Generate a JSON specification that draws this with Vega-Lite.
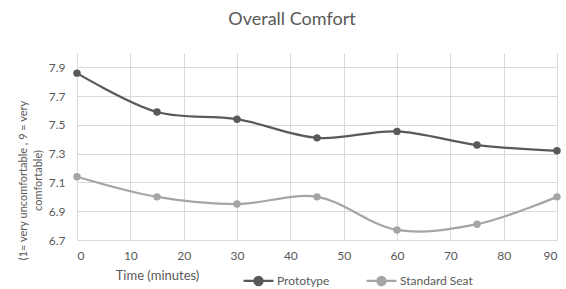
{
  "$schema": "https://vega.github.io/schema/vega-lite/v6.json",
  "width": 480,
  "height": 187,
  "autosize": "none",
  "padding": {"left": 77, "top": 53, "right": 9, "bottom": 49},
  "background": "white",
  "config": {
    "font": "Lato",
    "view": {"stroke": null},
    "axis": {"labelColor": "#595959", "titleColor": "#595959", "labelFont": "Lato", "titleFont": "Lato", "labelFontSize": 12, "titleFontSize": 13, "titleFontWeight": "normal", "gridColor": "#d9d9d9", "gridWidth": 1, "domainColor": "#d9d9d9", "ticks": false}
  },
  "title": {"text": "Overall Comfort", "fontSize": 18, "font": "Lato", "fontWeight": "normal", "color": "#595959", "anchor": "middle", "dx": -25, "offset": 24},
  "data": {"values": [
    {"time": 0, "series": "Prototype", "value": 7.86},
    {"time": 15, "series": "Prototype", "value": 7.59},
    {"time": 30, "series": "Prototype", "value": 7.54},
    {"time": 45, "series": "Prototype", "value": 7.41},
    {"time": 60, "series": "Prototype", "value": 7.455},
    {"time": 75, "series": "Prototype", "value": 7.36},
    {"time": 90, "series": "Prototype", "value": 7.32},
    {"time": 0, "series": "Standard Seat", "value": 7.14},
    {"time": 15, "series": "Standard Seat", "value": 7.0},
    {"time": 30, "series": "Standard Seat", "value": 6.95},
    {"time": 45, "series": "Standard Seat", "value": 7.0},
    {"time": 60, "series": "Standard Seat", "value": 6.77},
    {"time": 75, "series": "Standard Seat", "value": 6.81},
    {"time": 90, "series": "Standard Seat", "value": 7.0}
  ]},
  "encoding": {
    "x": {"field": "time", "type": "quantitative", "scale": {"domain": [0, 90], "nice": false},
      "axis": {"values": [0,10,20,30,40,50,60,70,80,90], "labelPadding": 10, "title": "Time (minutes)", "titleX": 80, "titleY": 35, "titleAlign": "center", "titleBaseline": "middle", "domain": true, "grid": true}},
    "y": {"field": "value", "type": "quantitative", "scale": {"domain": [6.7, 8.0], "nice": false, "zero": false},
      "axis": {"values": [6.7, 6.9, 7.1, 7.3, 7.5, 7.7, 7.9], "format": ".1f", "labelPadding": 12, "domain": false,
        "title": ["(1= very uncomfortable , 9 = very", "comfortable)"], "titleFontSize": 11, "titleAngle": -90, "titleX": -60, "titleY": 127, "titleAlign": "center", "titleBaseline": "top", "titleLineHeight": 15}},
    "color": {"field": "series", "type": "nominal",
      "scale": {"domain": ["Prototype", "Standard Seat"], "range": ["#595959", "#a5a5a5"]},
      "legend": {"title": null, "orient": "none", "direction": "horizontal", "legendX": 165, "legendY": 211,
        "symbolType": "M-1,0L1,0M0.27,0A0.27,0.27 0 1,1 -0.27,0A0.27,0.27 0 1,1 0.27,0Z",
        "symbolSize": 900, "symbolStrokeWidth": 2.25, "labelFontSize": 12, "labelColor": "#595959", "labelFont": "Lato", "labelOffset": 2, "columnPadding": 32,
        "encode": {"symbols": {"update": {"fill": {"scale": "color", "field": "value"}, "stroke": {"scale": "color", "field": "value"}, "opacity": {"value": 1}}}}}}
  },
  "layer": [
    {"mark": {"type": "line", "interpolate": "catmull-rom", "strokeWidth": 2.25}},
    {"mark": {"type": "point", "filled": true, "size": 55, "opacity": 1}}
  ]
}
